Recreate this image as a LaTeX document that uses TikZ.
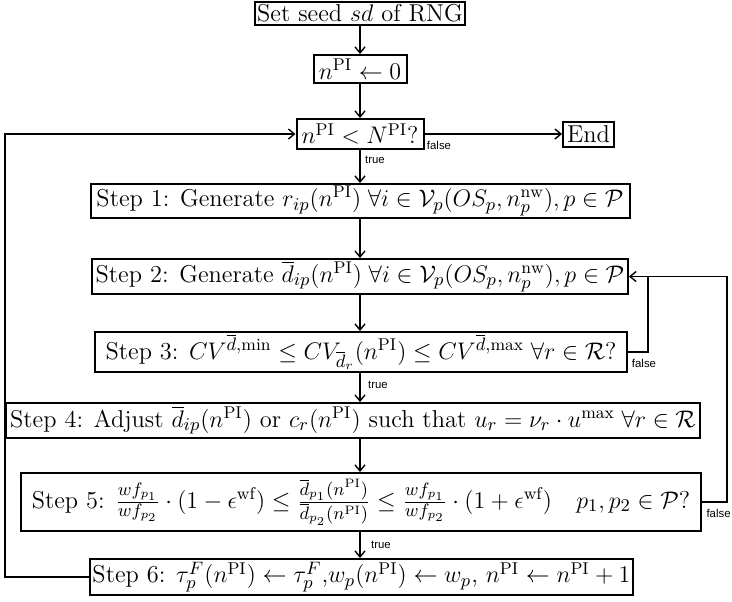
\documentclass[tikz,border=0pt]{standalone}
\usepackage{fontspec}
\usetikzlibrary{arrows.meta}
\newfontfamily\lblfont{Liberation Sans}
\newcommand{\mainsz}{\fontsize{12.2}{14.5}\selectfont}
\newcommand{\PI}{\mathrm{PI}}
\begin{document}
\begin{tikzpicture}[x=0.5pt,y=-0.5pt,
  box/.style={draw, line width=1pt, inner sep=1pt, font=\mainsz, anchor=center},
  conn/.style={line width=0.7pt, -{Straight Barb[length=3pt,width=5pt]}},
  plain/.style={line width=0.7pt},
  lbl/.style={font=\lblfont\fontsize{5.7}{6}\selectfont, inner sep=0pt}]
\useasboundingbox (0,0) rectangle (732,601);

\node[box, minimum width=104pt, minimum height=11.5pt] (seed) at (360,13.5) {Set seed $sd$ of RNG};
\node[box, minimum width=46.5pt, minimum height=14pt] (init) at (360,69) {$n^{\PI} \leftarrow 0$};
\node[box, minimum width=63.5pt, minimum height=15pt] (cond) at (360,134) {$n^{\PI} < N^{\PI}$?};
\node[box, minimum width=25.5pt, minimum height=12.5pt] (end) at (588.5,134) {End};
\node[box, minimum width=269.5pt, minimum height=17pt] (s1) at (360,201) {Step 1: Generate $r_{ip}(n^{\PI})\;\forall i \in \mathcal{V}_p(OS_p, n_p^{\mathrm{nw}}), p \in \mathcal{P}$};
\node[box, minimum width=268pt, minimum height=17.5pt] (s2) at (360,276.5) {Step 2: Generate $\overline{d}_{ip}(n^{\PI})\;\forall i \in \mathcal{V}_p(OS_p, n_p^{\mathrm{nw}}), p \in \mathcal{P}$};
\node[box, minimum width=266pt, minimum height=20pt] (s3) at (361,352) {Step 3: $CV^{\overline{d},\min} \leq CV_{\overline{d}_r}(n^{\PI}) \leq CV^{\overline{d},\max}\;\forall r \in \mathcal{R}$?};
\node[box, minimum width=347pt, minimum height=17.5pt] (s4) at (353,420.5) {Step 4: Adjust $\overline{d}_{ip}(n^{\PI})$ or $c_r(n^{\PI})$ such that $u_r = \nu_r \cdot u^{\max}\;\forall r \in \mathcal{R}$};
\node[box, minimum width=340pt, minimum height=29pt] (s5) at (361,502) {Step 5: $\frac{wf_{p_1}}{wf_{p_2}} \cdot (1-\epsilon^{\mathrm{wf}}) \leq \frac{\overline{d}_{p_1}(n^{\PI})}{\overline{d}_{p_2}(n^{\PI})} \leq \frac{wf_{p_1}}{wf_{p_2}} \cdot (1+\epsilon^{\mathrm{wf}}) \quad p_1, p_2 \in \mathcal{P}$?};
\node[box, minimum width=266.5pt, minimum height=18pt] (s6) at (361.5,577) {Step 6: $\tau_p^F(n^{\PI}) \leftarrow \tau_p^F$,$w_p(n^{\PI}) \leftarrow w_p$, $n^{\PI} \leftarrow n^{\PI}+1$};

\coordinate (col) at (360,0);
\coordinate (lx) at (5,0);
\coordinate (ix) at (648,0);
\coordinate (rx) at (727,0);

\draw[conn] (seed) -- (init);
\draw[conn] (init) -- (cond);
\draw[conn] (cond) -- (end);
\draw[conn] (cond) -- (s1);
\draw[conn] (s1) -- (s2);
\draw[conn] (s2.south -| col) -- (s3.north -| col);
\draw[conn] (s3.south -| col) -- (s4.north -| col);
\draw[conn] (s4.south -| col) -- (s5.north -| col);
\draw[conn] (s5.south -| col) -- (s6.north -| col);
\draw[plain] (s3.east) -- (s3.east -| ix) -- (ix |- s2.east);
\draw[conn] (s5.east) -- (s5.east -| rx) -- (rx |- s2.east) -- (s2.east);
\draw[conn] (s6.west) -- (s6.west -| lx) -- (lx |- cond.west) -- (cond.west);

\node[lbl] (f1) at (439,145) {false};
\node[lbl] (t1) at (375,160) {true};
\node[lbl] (f2) at (644,363) {false};
\node[lbl] (t2) at (378,385) {true};
\node[lbl, anchor=east] (f3) at (731,513) {false};
\node[lbl] (t3) at (381,545) {true};
\end{tikzpicture}
\end{document}
